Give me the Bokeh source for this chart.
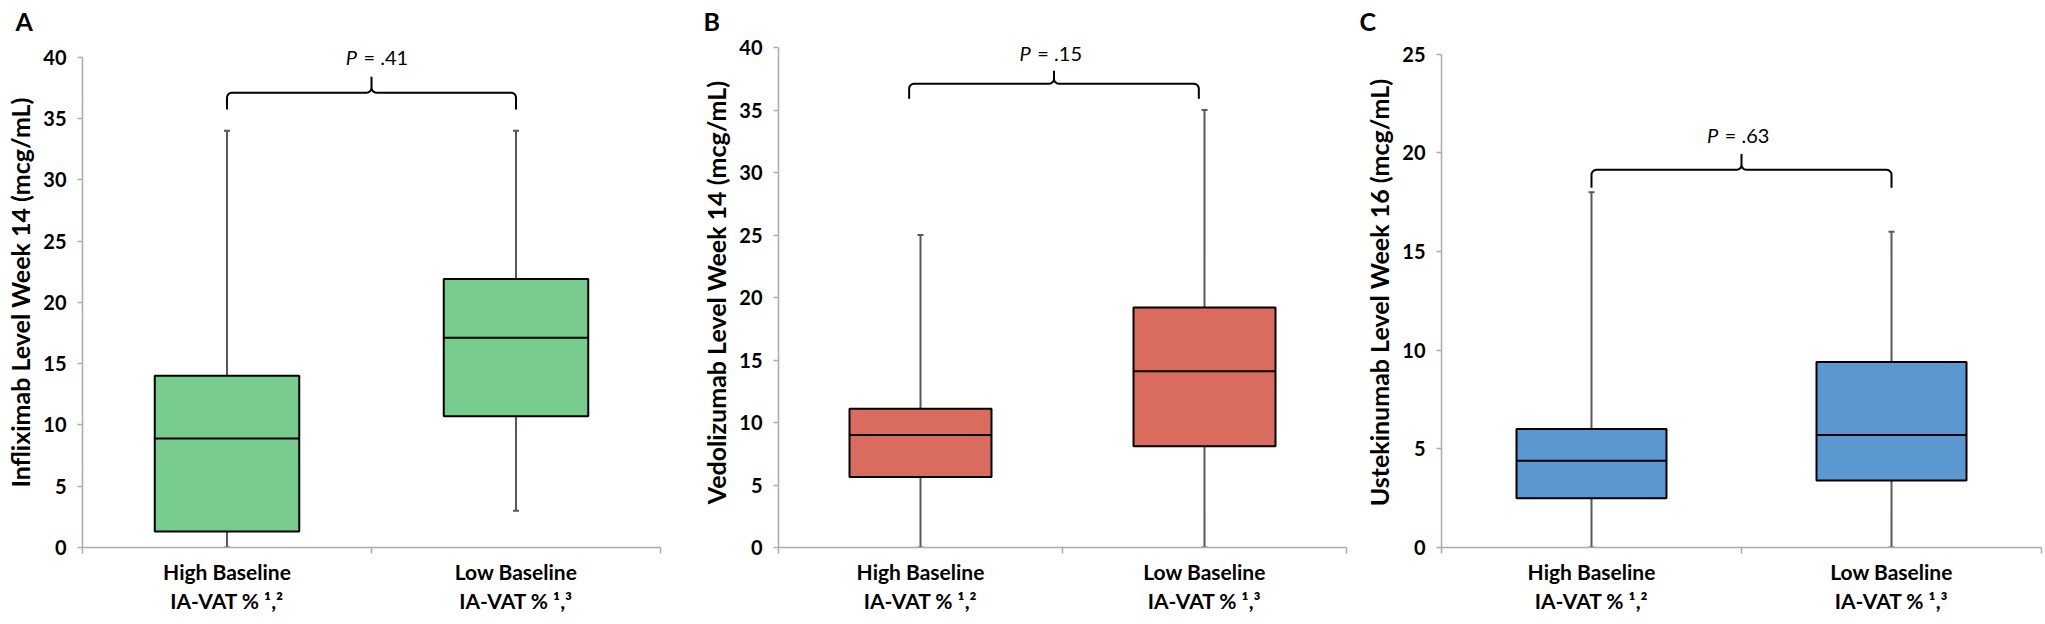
import math
from bokeh.plotting import figure
from bokeh.layouts import row
from bokeh.models import Range1d, FixedTicker
from bokeh.core.properties import value
from bokeh.embed import file_html
from bokeh.resources import INLINE

# ---------------- data ----------------
categories = ["High Baseline\nIA-VAT % \u00b9,\u00b2", "Low Baseline\nIA-VAT % \u00b9,\u00b3"]

# Panel A: Infliximab
ifx_low = [0.0, 3.0]
ifx_q1 = [1.3, 10.7]
ifx_med = [8.9, 17.1]
ifx_q3 = [14.0, 21.9]
ifx_high = [34.0, 34.0]

# Panel B: Vedolizumab
vdz_low = [0.0, 0.0]
vdz_q1 = [5.65, 8.1]
vdz_med = [9.0, 14.1]
vdz_q3 = [11.1, 19.2]
vdz_high = [25.0, 35.0]

# Panel C: Ustekinumab
ust_low = [0.0, 0.0]
ust_q1 = [2.5, 3.4]
ust_med = [4.4, 5.7]
ust_q3 = [6.0, 9.4]
ust_high = [18.0, 16.0]

panel_letters = ["A", "B", "C"]
y_titles = ["Infliximab Level Week 14 (mcg/mL)",
            "Vedolizumab Level Week 14 (mcg/mL)",
            "Ustekinumab Level Week 16 (mcg/mL)"]
p_values = [".41", ".15", ".63"]
y_axis_max = [40, 40, 25]
y_tick_step = 5

FONT = "Lato"
AXIS_GRAY = "#ababab"
WHISKER = "#595959"
H = 624
TOP = 37


def make_panel(letter, ytitle, low, q1, med, q3, high, color, ymax, pval,
               width, mbl, mbr, mbb, frame_w, px_per_unit, letter_x,
               bracket_y, bx, text_y, text_x, drop_px, rise_px):
    frame_h = H - TOP - mbb
    yend = frame_h / px_per_unit
    p = figure(width=width, height=H, x_range=Range1d(0, len(categories)),
               y_range=Range1d(0, yend), output_backend="svg",
               toolbar_location=None, min_border_left=mbl, min_border_right=mbr,
               min_border_top=TOP, min_border_bottom=mbb)
    p.outline_line_color = None
    p.grid.visible = False

    # panel letter as title
    p.title.text = letter
    p.title.text_font = FONT
    p.title.text_font_style = "bold"
    p.title.text_font_size = "25px"
    p.title.text_color = "black"
    p.title.align = "left"
    p.title.vertical_align = "top"
    p.title.offset = letter_x - mbl
    p.title.standoff = 0

    xs = [i + 0.5 for i in range(len(categories))]

    # y axis
    ya = p.yaxis[0]
    ya.bounds = (0, ymax)
    ya.ticker = FixedTicker(ticks=list(range(0, ymax + 1, y_tick_step)), minor_ticks=[])
    ya.axis_line_color = AXIS_GRAY
    ya.axis_line_width = 1.5
    ya.major_tick_line_color = AXIS_GRAY
    ya.major_tick_line_width = 1.5
    ya.major_tick_in = 0
    ya.major_tick_out = 5
    ya.minor_tick_line_color = None
    ya.major_label_text_font = FONT
    ya.major_label_text_font_style = "bold"
    ya.major_label_text_font_size = "20px"
    ya.major_label_text_color = "black"
    ya.major_label_standoff = 11
    ya.axis_label = ytitle
    ya.axis_label_text_font = FONT
    ya.axis_label_text_font_style = "bold"
    ya.axis_label_text_font_size = "25px"
    ya.axis_label_text_color = "black"
    ya.axis_label_standoff = 5

    # x axis
    xa = p.xaxis[0]
    xa.axis_label = None
    xa.bounds = (0, len(categories))
    xa.ticker = FixedTicker(ticks=xs, minor_ticks=list(range(len(categories) + 1)))
    xa.major_label_overrides = {x: c for x, c in zip(xs, categories)}
    xa.axis_line_color = AXIS_GRAY
    xa.axis_line_width = 1.5
    xa.major_tick_line_color = None
    xa.major_tick_in = 0
    xa.major_tick_out = 0
    xa.minor_tick_line_color = AXIS_GRAY
    xa.minor_tick_line_width = 1.5
    xa.minor_tick_in = 0
    xa.minor_tick_out = 6
    xa.major_label_text_font = FONT
    xa.major_label_text_font_style = "bold"
    xa.major_label_text_font_size = "21px"
    xa.major_label_text_line_height = 1.18
    xa.major_label_text_color = "black"
    xa.major_label_standoff = 5

    # whiskers
    p.segment(x0=xs, x1=xs, y0=q3, y1=high, line_color=WHISKER, line_width=2)
    p.segment(x0=xs, x1=xs, y0=low, y1=q1, line_color=WHISKER, line_width=2)
    p.scatter(x=xs, y=high, marker="dash", size=6, line_color=WHISKER, line_width=2)
    p.scatter(x=xs, y=low, marker="dash", size=6, line_color=WHISKER, line_width=2)
    # boxes
    p.vbar(x=xs, width=0.5, bottom=q1, top=q3, fill_color=color,
           line_color="black", line_width=2)
    p.segment(x0=[x - 0.25 for x in xs], x1=[x + 0.25 for x in xs], y0=med, y1=med,
              line_color="black", line_width=2)

    # curly bracket
    sx = frame_w / len(categories)
    sy = px_per_unit
    xl, xc, xr = bx
    r = 5.0
    dx = r / sx
    dy = r / sy
    drop = drop_px / sy
    rise = rise_px / sy
    bxs, bys = [xl], [bracket_y - drop]
    for k in range(7):
        a = math.pi / 2 * k / 6
        bxs.append(xl + dx * (1 - math.cos(a)))
        bys.append(bracket_y - dy + dy * math.sin(a))
    for k in range(7):
        a = math.pi / 2 * k / 6
        bxs.append(xc - dx + dx * math.sin(a))
        bys.append(bracket_y + dy * (1 - math.cos(a)))
    bxs += [xc, xc]
    bys += [bracket_y + rise, bracket_y + dy]
    for k in range(7):
        a = math.pi / 2 * k / 6
        bxs.append(xc + dx * (1 - math.cos(a)))
        bys.append(bracket_y + dy - dy * math.sin(a))
    for k in range(7):
        a = math.pi / 2 * k / 6
        bxs.append(xr - dx + dx * math.sin(a))
        bys.append(bracket_y - dy * (1 - math.cos(a)))
    bxs.append(xr)
    bys.append(bracket_y - drop)
    p.line(bxs, bys, line_color="black", line_width=2)

    # P value text
    p.text(x=[text_x], y=[text_y], text=["P"], text_font=value(FONT),
           text_font_style="italic", text_font_size="20px", text_align="right",
           text_baseline="middle", x_offset=-20, text_color="black")
    p.text(x=[text_x], y=[text_y], text=["= " + pval], text_font=value(FONT),
           text_font_size="20px", text_align="left",
           text_baseline="middle", x_offset=-13.5, text_color="black")
    return p


pA = make_panel("A", y_titles[0], ifx_low, ifx_q1, ifx_med, ifx_q3, ifx_high,
                "#77CC8D", y_axis_max[0], p_values[0],
                width=698, mbl=82, mbr=38, mbb=72, frame_w=578, px_per_unit=12.38,
                letter_x=15,
                bracket_y=37.1, bx=(0.5, 1.0, 1.5), text_y=40.0, text_x=1.019,
                drop_px=17, rise_px=16)
pB = make_panel("B", y_titles[1], vdz_low, vdz_q1, vdz_med, vdz_q3, vdz_high,
                "#DA6B5F", y_axis_max[1], p_values[1],
                width=660, mbl=76, mbr=12, mbb=77, frame_w=572, px_per_unit=12.5,
                letter_x=1,
                bracket_y=37.1, bx=(0.46, 0.97, 1.48), text_y=39.6, text_x=0.959,
                drop_px=15, rise_px=13)
pC = make_panel("C", y_titles[2], ust_low, ust_q1, ust_med, ust_q3, ust_high,
                "#5B97D1", y_axis_max[2], p_values[2],
                width=687, mbl=83, mbr=4, mbb=74, frame_w=600, px_per_unit=19.85,
                letter_x=1,
                bracket_y=19.14, bx=(0.5, 1.0, 1.5), text_y=20.9, text_x=0.989,
                drop_px=18, rise_px=16)

layout = row(pA, pB, pC, spacing=0)
open("out.html", "w").write(file_html(layout, INLINE))
